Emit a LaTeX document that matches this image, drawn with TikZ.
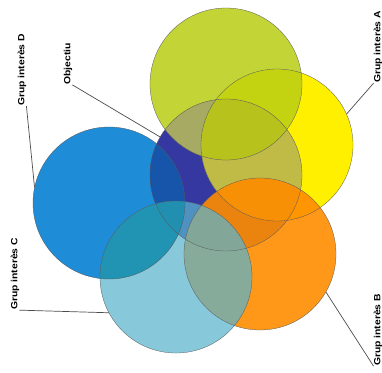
\documentclass[tikz,border=0pt]{standalone}
\usepackage{fontspec}
\setmainfont{Liberation Sans}
\newfontfamily\etiqfont[FakeStretch=1.15]{Liberation Sans}
\usepackage{tikz}
\usetikzlibrary{positioning}
\definecolor{verdgroc}{RGB}{185,205,20}
\definecolor{groc}{RGB}{255,240,0}
\definecolor{marino}{RGB}{52,56,160}
\definecolor{blau}{RGB}{30,140,215}
\definecolor{blaufosc}{RGB}{22,85,170}
\definecolor{oliva}{RGB}{184,194,28}
\definecolor{olivagris}{RGB}{166,170,98}
\definecolor{olivagroc}{RGB}{192,186,70}
\definecolor{turquesa}{RGB}{90,180,205}
\definecolor{turqfosc}{RGB}{20,140,170}
\definecolor{taronja}{RGB}{255,140,0}

\begin{document}
\begin{tikzpicture}[x=1pt, y=-1pt,
  cercle/.style={circle, minimum size=152pt, inner sep=0pt, draw=gray!70!black, line width=0.3pt},
  etiq/.style={rotate=90, inner sep=0pt, font=\etiqfont\bfseries\fontsize{9}{10}\selectfont},
  conn/.style={draw=black!70, line width=0.7pt}
]

\def\r{76} % radi dels cercles

\fill[white] (0,0) rectangle (382,372);
\useasboundingbox (0,0) rectangle (382,372);

\coordinate (cD) at (109,203);
\coordinate (cO) at (226,175);
\coordinate (cA) at (277,145);
\coordinate (cS) at (226,84);
\coordinate (cB) at (260,254);
\coordinate (cC) at (176,277);

% farciments
\fill[blau] (cD) circle[radius=\r];
\fill[marino] (cO) circle[radius=\r];
\begin{scope}
  \clip (cO) circle[radius=\r];
  \fill[blaufosc] (cD) circle[radius=\r];
\end{scope}
\fill[groc] (cA) circle[radius=\r];
\fill[verdgroc, fill opacity=0.85] (cS) circle[radius=\r];
\begin{scope}
  \clip (cO) circle[radius=\r];
  \fill[olivagroc] (cA) circle[radius=\r];
  \fill[olivagris] (cS) circle[radius=\r];
  \clip (cA) circle[radius=\r];
  \fill[oliva] (cS) circle[radius=\r];
\end{scope}
\fill[taronja, fill opacity=0.9] (cB) circle[radius=\r];
\fill[turquesa, fill opacity=0.72] (cC) circle[radius=\r];
\begin{scope}
  \clip (cD) circle[radius=\r];
  \fill[turqfosc, fill opacity=0.75] (cC) circle[radius=\r];
\end{scope}

% cercles
\node[cercle] (gD) at (cD) {};
\node[cercle] (gO) at (cO) {};
\node[cercle] (gA) at (cA) {};
\node[cercle] (gS) at (cS) {};
\node[cercle] (gB) at (cB) {};
\node[cercle] (gC) at (cC) {};

% etiquetes
\node[etiq] (lblD) at (22,70) {Grup interès D};
\node[etiq] (lblO) at (68,64) {Objectiu};
\node[etiq] (lblA) at (378,47) {Grup interès A};
\node[etiq] (lblC) at (15,274) {Grup interès C};
\node[etiq] (lblB) at (378,330) {Grup interès B};

\draw[conn] (lblD.south west) -- (gD.168);
\draw[conn] (lblO.south west) -- (gO.150);
\draw[conn] (lblA.north west) -- (gA.24);
\draw[conn] (lblC.south west) -- (gC.208);
\draw[conn] (gB.-30) -- (lblB.north west);

\end{tikzpicture}
\end{document}
